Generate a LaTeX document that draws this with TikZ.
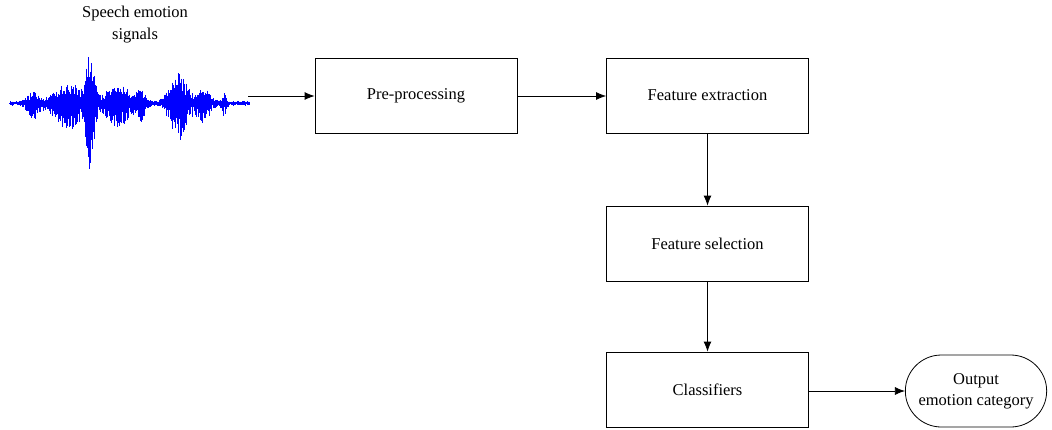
\documentclass[tikz,border=0pt]{standalone}
\usepackage{fontspec}
\setmainfont{Liberation Serif}
\usetikzlibrary{arrows.meta,shapes.misc}
\begin{document}
\begin{tikzpicture}[x=1pt,y=-1pt,
  procbox/.style={draw,line width=0.8pt,minimum width=202pt,minimum height=75pt,font=\fontsize{16.5}{19}\selectfont},
  outbox/.style={draw,line width=0.8pt,rounded rectangle,minimum width=148pt,minimum height=72pt,align=center,font=\fontsize{16.5}{21}\selectfont},
  conn/.style={line width=0.8pt,-{Latex[length=10pt,width=8pt]}},
  wave/.style={blue,line width=0.55pt}]
\useasboundingbox (0,0) rectangle (1052,429);
% title
\node[align=center,font=\fontsize{16.5}{22}\selectfont] (title) at (135,25) {Speech emotion\\signals};
% waveform
\pgfmathsetseed{7}
\foreach \x in {10,10.6,...,250}{
  \pgfmathsetmacro{\env}{1.3*(1.5+8*exp(max(-20,-((\x-33)/7)^2))+14*exp(max(-20,-((\x-68)/18)^2))+36*exp(max(-20,-((\x-90)/5)^2))+13*exp(max(-20,-((\x-118)/16)^2))+9*exp(max(-20,-((\x-140)/6)^2))+22*exp(max(-20,-((\x-178)/11)^2))+10*exp(max(-20,-((\x-203)/9)^2))+7*exp(max(-20,-((\x-224)/2.5)^2)))}
  \pgfmathsetmacro{\up}{\env*(0.3+0.7*rnd)}
  \pgfmathsetmacro{\dn}{\env*(0.3+0.8*rnd)*1.2}
  \draw[wave] (\x,103-\up) -- (\x,103+\dn);
}
\draw[wave,line width=1pt] (9,103) -- (250,103);
\coordinate (wend) at (248,96);
% boxes
\node[procbox] (pre) at (416,95.5) {Pre-processing};
\node[procbox] (fe) at (707.5,95.5) {Feature extraction};
\node[procbox] (fs) at (707.5,243.5) {Feature selection};
\node[procbox] (cl) at (707.5,389.5) {Classifiers};
\node[outbox] (out) at (976,391) {Output\\emotion category};
% connectors
\draw[conn] (wend) -- (pre.west |- wend);
\draw[conn] (pre.east |- wend) -- (fe.west |- wend);
\draw[conn] (fe) -- (fs);
\draw[conn] (fs) -- (cl);
\draw[conn] (cl.east |- out.west) -- (out.west);
\end{tikzpicture}
\end{document}
